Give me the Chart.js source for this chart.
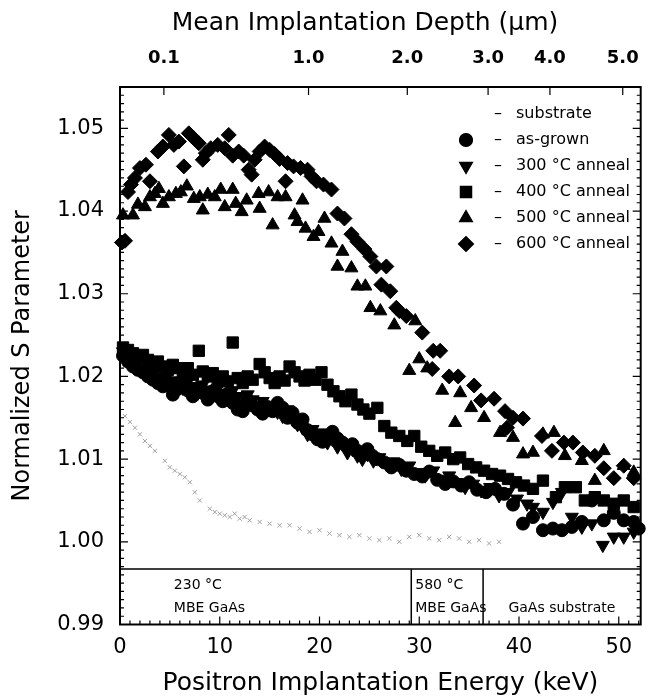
<!DOCTYPE html>
<html>
<head>
<meta charset="utf-8">
<script src="https://cdn.jsdelivr.net/npm/chart.js@4"></script>
<style>
  html, body { margin: 0; padding: 0; background: #fff; }
</style>
</head>
<body>
<canvas id="chart" width="657" height="698"></canvas>
<script>
// energies in keV, S values normalized
const substrateE = [0.5, 1.0, 1.5, 2.0, 2.5, 3.0, 3.5, 4.5, 5.0, 5.5, 6.0, 6.5, 7.0, 7.5, 8.0, 9.0, 9.5, 10.0, 10.5, 11.0, 11.5, 12.0, 12.5, 13.0, 14.0, 15.0, 16.0, 17.0, 18.0, 19.0, 20.0, 21.0, 22.0, 23.0, 24.0, 25.0, 26.0, 27.0, 28.0, 29.0, 30.0, 31.0, 32.0, 33.0, 34.0, 35.0, 36.0, 37.0, 38.0];
const substrateS = [1.0152, 1.0145, 1.0138, 1.0130, 1.0122, 1.0116, 1.0110, 1.0098, 1.0090, 1.0086, 1.0082, 1.0078, 1.0072, 1.0060, 1.0050, 1.0040, 1.0036, 1.0034, 1.0032, 1.0030, 1.0034, 1.0028, 1.0030, 1.0026, 1.0024, 1.0022, 1.0020, 1.0020, 1.0016, 1.0012, 1.0014, 1.0010, 1.0008, 1.0006, 1.0008, 1.0004, 1.0002, 1.0004, 1.0000, 1.0006, 1.0008, 1.0004, 1.0002, 1.0006, 1.0004, 1.0000, 1.0002, 0.9998, 1.0000];

const asGrownE = [0.3, 0.8, 1.3, 1.8, 2.3, 2.8, 3.3, 3.8, 4.3, 4.8, 5.3, 5.8, 6.3, 6.8, 7.3, 7.8, 8.3, 8.8, 9.3, 9.8, 10.3, 10.8, 11.3, 11.8, 12.3, 12.8, 13.3, 13.8, 14.3, 14.8, 15.3, 15.8, 16.3, 16.8, 17.3, 17.8, 18.3, 18.8, 19.3, 19.8, 20.3, 20.8, 21.3, 21.8, 22.3, 22.8, 23.3, 23.8, 24.3, 24.8, 25.3, 25.8, 26.5, 27.2, 28.0, 28.7, 29.5, 30.3, 31.0, 31.8, 32.6, 33.4, 34.2, 35.0, 35.8, 36.7, 37.6, 38.5, 39.4, 40.4, 41.4, 42.4, 43.4, 44.3, 45.3, 46.3, 47.3, 48.5, 49.5, 50.5, 51.5, 52.0];
const asGrownS = [1.0225, 1.0218, 1.0212, 1.0208, 1.0205, 1.0200, 1.0196, 1.0192, 1.0188, 1.0190, 1.0178, 1.0185, 1.0191, 1.0183, 1.0176, 1.0186, 1.0180, 1.0172, 1.0182, 1.0176, 1.0170, 1.0179, 1.0168, 1.0160, 1.0158, 1.0172, 1.0165, 1.0160, 1.0155, 1.0163, 1.0158, 1.0168, 1.0162, 1.0150, 1.0156, 1.0144, 1.0148, 1.0135, 1.0130, 1.0124, 1.0121, 1.0128, 1.0133, 1.0125, 1.0120, 1.0115, 1.0118, 1.0110, 1.0106, 1.0112, 1.0104, 1.0100, 1.0096, 1.0090, 1.0093, 1.0086, 1.0082, 1.0079, 1.0085, 1.0075, 1.0070, 1.0073, 1.0068, 1.0072, 1.0063, 1.0060, 1.0064, 1.0058, 1.0045, 1.0022, 1.0030, 1.0014, 1.0016, 1.0014, 1.0018, 1.0024, 1.0050, 1.0026, 1.0035, 1.0026, 1.0024, 1.0016];

const anneal300E = [0.3, 0.8, 1.3, 1.8, 2.3, 2.8, 3.3, 3.8, 4.3, 4.8, 5.3, 5.8, 6.3, 6.8, 7.3, 7.8, 8.3, 8.8, 9.3, 9.8, 10.3, 10.8, 11.3, 11.8, 12.3, 12.8, 13.3, 13.8, 14.3, 14.8, 15.3, 15.8, 16.3, 16.8, 17.3, 17.8, 18.3, 18.8, 19.3, 19.8, 20.3, 20.8, 21.3, 21.8, 22.3, 22.8, 23.3, 23.8, 24.3, 24.8, 25.4, 26.0, 26.7, 27.4, 28.2, 29.0, 29.8, 30.6, 31.4, 32.2, 33.0, 33.8, 34.6, 35.4, 36.2, 37.1, 38.0, 38.9, 39.8, 40.8, 41.4, 42.4, 43.4, 44.3, 45.3, 46.3, 47.3, 48.4, 49.5, 50.5, 51.5];
const anneal300S = [1.0230, 1.0222, 1.0215, 1.0218, 1.0210, 1.0212, 1.0205, 1.0200, 1.0196, 1.0202, 1.0195, 1.0190, 1.0186, 1.0194, 1.0188, 1.0180, 1.0190, 1.0184, 1.0178, 1.0186, 1.0180, 1.0174, 1.0183, 1.0176, 1.0168, 1.0178, 1.0172, 1.0165, 1.0170, 1.0160, 1.0164, 1.0157, 1.0152, 1.0160, 1.0148, 1.0142, 1.0138, 1.0130, 1.0136, 1.0128, 1.0132, 1.0120, 1.0124, 1.0115, 1.0118, 1.0108, 1.0112, 1.0104, 1.0100, 1.0106, 1.0098, 1.0102, 1.0094, 1.0097, 1.0088, 1.0092, 1.0084, 1.0080, 1.0086, 1.0076, 1.0080, 1.0072, 1.0066, 1.0070, 1.0062, 1.0066, 1.0056, 1.0060, 1.0052, 1.0046, 1.0042, 1.0036, 1.0048, 1.0060, 1.0030, 1.0018, 1.0022, 0.9996, 1.0006, 1.0006, 1.0012];

const anneal400E = [0.3, 0.8, 1.3, 1.8, 2.3, 2.8, 3.3, 3.8, 4.3, 4.8, 5.3, 5.8, 6.3, 6.8, 7.3, 7.9, 8.3, 8.8, 9.3, 9.8, 10.3, 10.8, 11.3, 11.8, 12.3, 12.8, 13.3, 14.0, 14.5, 15.0, 15.5, 16.0, 16.5, 17.0, 17.5, 18.0, 18.5, 19.0, 19.6, 20.2, 20.8, 21.4, 22.0, 22.6, 23.2, 23.8, 24.4, 25.0, 25.8, 26.5, 27.2, 28.0, 28.8, 29.5, 30.2, 31.0, 31.8, 32.6, 33.4, 34.1, 34.9, 35.7, 36.5, 37.3, 38.1, 38.9, 39.7, 40.5, 41.4, 42.4, 43.7, 44.6, 45.7, 46.6, 47.6, 48.5, 49.5, 50.5, 51.5];
const anneal400S = [1.0235, 1.0232, 1.0228, 1.0224, 1.0226, 1.0220, 1.0215, 1.0218, 1.0212, 1.0208, 1.0214, 1.0210, 1.0205, 1.0210, 1.0202, 1.0231, 1.0206, 1.0200, 1.0204, 1.0196, 1.0200, 1.0194, 1.0241, 1.0198, 1.0192, 1.0200, 1.0196, 1.0215, 1.0205, 1.0198, 1.0192, 1.0200, 1.0195, 1.0212, 1.0205, 1.0200, 1.0195, 1.0202, 1.0196, 1.0205, 1.0190, 1.0182, 1.0176, 1.0170, 1.0178, 1.0166, 1.0160, 1.0155, 1.0162, 1.0140, 1.0132, 1.0128, 1.0122, 1.0128, 1.0115, 1.0110, 1.0104, 1.0108, 1.0100, 1.0102, 1.0094, 1.0090, 1.0086, 1.0082, 1.0080, 1.0076, 1.0072, 1.0068, 1.0064, 1.0074, 1.0054, 1.0066, 1.0066, 1.0050, 1.0054, 1.0050, 1.0046, 1.0050, 1.0042];

const anneal500E = [0.3, 1.3, 1.8, 2.5, 3.0, 3.5, 3.9, 4.3, 4.9, 5.6, 6.1, 6.7, 7.4, 8.0, 8.3, 8.8, 9.5, 10.1, 10.5, 11.3, 11.6, 12.2, 12.7, 13.9, 14.0, 14.9, 15.3, 15.8, 16.6, 17.5, 17.8, 18.3, 18.6, 19.4, 19.9, 20.5, 21.2, 21.8, 22.3, 23.2, 23.8, 24.6, 25.1, 26.1, 27.5, 29.0, 29.6, 30.0, 30.8, 32.3, 33.6, 34.1, 35.2, 36.5, 38.1, 39.4, 40.4, 41.4, 42.4, 43.5, 44.6, 46.3, 47.6, 48.5, 50.5, 51.5];
const anneal500S = [1.0395, 1.0395, 1.0408, 1.0405, 1.0417, 1.0421, 1.0427, 1.0409, 1.0417, 1.0421, 1.0423, 1.0430, 1.0415, 1.0417, 1.0401, 1.0420, 1.0417, 1.0426, 1.0405, 1.0426, 1.0409, 1.0399, 1.0413, 1.0421, 1.0403, 1.0423, 1.0383, 1.0417, 1.0417, 1.0395, 1.0387, 1.0413, 1.0379, 1.0369, 1.0375, 1.0391, 1.0361, 1.0333, 1.0351, 1.0331, 1.0309, 1.0309, 1.0283, 1.0279, 1.0262, 1.0207, 1.0267, 1.0221, 1.0210, 1.0183, 1.0144, 1.0180, 1.0162, 1.0150, 1.0132, 1.0126, 1.0106, 1.0108, 1.0130, 1.0132, 1.0104, 1.0098, 1.0074, 1.0110, 1.0092, 1.0084];

const anneal600E = [0.2, 0.5, 0.8, 1.1, 1.5, 2.0, 2.6, 3.0, 3.8, 4.3, 4.9, 5.4, 5.9, 6.4, 6.9, 7.4, 7.9, 8.3, 8.6, 9.1, 9.8, 10.5, 10.9, 11.3, 11.9, 12.4, 12.9, 13.2, 13.5, 14.0, 14.5, 15.0, 15.5, 16.0, 16.6, 16.8, 17.4, 18.1, 18.8, 19.2, 19.7, 20.4, 21.2, 21.8, 22.5, 23.2, 23.8, 24.5, 25.1, 25.7, 26.2, 26.7, 27.1, 27.7, 28.0, 28.7, 30.3, 31.3, 31.4, 32.1, 33.0, 33.9, 35.5, 36.2, 37.5, 38.6, 38.8, 39.4, 40.4, 42.3, 43.3, 44.5, 45.4, 46.4, 47.6, 48.5, 49.5, 50.5, 51.5];
const anneal600S = [1.0362, 1.0364, 1.0423, 1.0432, 1.0440, 1.0452, 1.0456, 1.0436, 1.0472, 1.0478, 1.0492, 1.0480, 1.0484, 1.0454, 1.0494, 1.0488, 1.0482, 1.0462, 1.0470, 1.0476, 1.0480, 1.0476, 1.0492, 1.0467, 1.0472, 1.0467, 1.0450, 1.0444, 1.0462, 1.0472, 1.0478, 1.0474, 1.0469, 1.0463, 1.0436, 1.0458, 1.0454, 1.0452, 1.0450, 1.0442, 1.0436, 1.0432, 1.0426, 1.0397, 1.0391, 1.0372, 1.0363, 1.0354, 1.0345, 1.0333, 1.0311, 1.0333, 1.0303, 1.0283, 1.0279, 1.0273, 1.0253, 1.0209, 1.0231, 1.0231, 1.0200, 1.0200, 1.0189, 1.0171, 1.0173, 1.0158, 1.0138, 1.0150, 1.0149, 1.0128, 1.0110, 1.0120, 1.0120, 1.0108, 1.0104, 1.0089, 1.0077, 1.0092, 1.0077];

const seriesLabels = ['substrate', 'as-grown', '300 °C anneal', '400 °C anneal', '500 °C anneal', '600 °C anneal'];

// axes
const energyTicks = [0, 10, 20, 30, 40, 50];
const sTicks = [0.99, 1.00, 1.01, 1.02, 1.03, 1.04, 1.05];
const depthTickEnergies = [4.4, 18.9, 28.8, 36.9, 43.1, 50.4];
const depthTickLabels = ['0.1', '1.0', '2.0', '3.0', '4.0', '5.0'];

// sample layers (keV boundaries) for the bottom strip
const layerBounds = [0, 29.2, 36.4];
const layerTopS = 0.9967;

const FONT = 'DejaVu Sans';

function pts(E, S) { return E.map((e, i) => ({ x: e, y: S[i] })); }

function mk(label, E, S, style, radius, rotation) {
  return {
    label: label, data: pts(E, S), pointStyle: style, pointRadius: radius,
    pointRotation: rotation || 0, backgroundColor: '#000', borderColor: '#000',
    pointBorderWidth: 1, showLine: false, clip: false
  };
}

const datasets = [
  { label: seriesLabels[0], data: pts(substrateE, substrateS), pointStyle: 'crossRot', pointRadius: 3,
    borderColor: '#a0a0a0', backgroundColor: '#a0a0a0', pointBorderWidth: 1, showLine: false, clip: false },
  mk(seriesLabels[1], asGrownE, asGrownS, 'circle', 6.5),
  mk(seriesLabels[2], anneal300E, anneal300S, 'triangle', 7.5, 180),
  mk(seriesLabels[3], anneal400E, anneal400S, 'rect', 8),
  mk(seriesLabels[4], anneal500E, anneal500S, 'triangle', 7.5),
  mk(seriesLabels[5], anneal600E, anneal600S, 'rectRot', 7.5)
];

const decor = {
  id: 'decor',
  afterDraw(chart) {
    const ctx = chart.ctx;
    const a = chart.chartArea;
    const xs = chart.scales.x, ys = chart.scales.y;
    ctx.save();
    ctx.strokeStyle = '#000';
    ctx.fillStyle = '#000';

    // frame
    ctx.lineWidth = 2;
    ctx.strokeRect(a.left, a.top, a.right - a.left, a.bottom - a.top);

    // layer strip
    const yb = ys.getPixelForValue(layerTopS);
    ctx.lineWidth = 1.5;
    ctx.beginPath();
    ctx.moveTo(a.left, yb); ctx.lineTo(a.right, yb);
    for (let i = 1; i < layerBounds.length; i++) {
      const x = xs.getPixelForValue(layerBounds[i]);
      ctx.moveTo(x, yb); ctx.lineTo(x, a.bottom);
    }
    ctx.stroke();

    // inward ticks
    ctx.lineWidth = 1.2;
    ctx.beginPath();
    for (let k = 990; k <= 1055; k++) {
      const y = ys.getPixelForValue(k / 1000);
      const len = k % 10 === 0 ? 8 : 4;
      ctx.moveTo(a.left, y); ctx.lineTo(a.left + len, y);
      ctx.moveTo(a.right, y); ctx.lineTo(a.right - len, y);
    }
    for (let e = 0; e <= 52; e++) {
      const x = xs.getPixelForValue(e);
      const len = e % 10 === 0 ? 8 : 4;
      ctx.moveTo(x, a.bottom); ctx.lineTo(x, a.bottom - len);
    }
    depthTickEnergies.forEach(e => {
      const x = xs.getPixelForValue(e);
      ctx.moveTo(x, a.top); ctx.lineTo(x, a.top + 8);
    });
    ctx.stroke();

    // layer labels
    ctx.font = '14px "' + FONT + '"';
    ctx.textBaseline = 'middle';
    ctx.textAlign = 'left';
    const x1 = xs.getPixelForValue(5.4), x2 = xs.getPixelForValue(layerBounds[1]) + 4;
    ctx.fillText('230 °C', x1, 585);
    ctx.fillText('MBE GaAs', x1, 608);
    ctx.fillText('580 °C', x2, 585);
    ctx.fillText('MBE GaAs', x2, 608);
    ctx.textAlign = 'center';
    ctx.fillText('GaAs substrate', (xs.getPixelForValue(layerBounds[2]) + a.right) / 2, 608);

    // top axis title
    ctx.font = '25px "' + FONT + '"';
    ctx.fillText('Mean Implantation Depth (µm)', 365, 23);

    // legend
    ctx.font = '16px "' + FONT + '"';
    ctx.textAlign = 'left';
    chart.data.datasets.forEach((ds, i) => {
      const y = 114 + i * 26;
      if (i > 0) {
        Chart.helpers.drawPoint(ctx, {
          pointStyle: ds.pointStyle, radius: ds.pointRadius, rotation: ds.pointRotation, borderWidth: 1
        }, 466, y);
        ctx.fill();
      }
      ctx.fillText('–', 494, y);
      ctx.fillText(ds.label, 516, y);
    });
    ctx.restore();
  }
};

new Chart(document.getElementById('chart'), {
  type: 'scatter',
  data: { datasets: datasets },
  options: {
    responsive: false,
    animation: false,
    layout: { padding: { left: 0, right: 3, top: 0, bottom: 0 } },
    plugins: { legend: { display: false }, tooltip: { enabled: false } },
    scales: {
      x: {
        type: 'linear', position: 'bottom', min: 0, max: 52.2,
        afterBuildTicks: s => { s.ticks = energyTicks.map(v => ({ value: v })); },
        afterFit: s => { s.height = 73.5; },
        grid: { display: false, drawTicks: false },
        border: { display: false },
        ticks: { padding: 10, color: '#000', maxRotation: 0, autoSkip: false, font: { family: FONT, size: 21 } },
        title: { display: true, text: 'Positron Implantation Energy (keV)', color: '#000',
                 padding: { top: 0, bottom: 0 }, font: { family: FONT, size: 25 } }
      },
      x2: {
        type: 'linear', position: 'top', min: 0, max: 52.2,
        afterBuildTicks: s => { s.ticks = depthTickEnergies.map(v => ({ value: v })); },
        afterFit: s => { s.height = 87; },
        grid: { display: false, drawTicks: false },
        border: { display: false },
        ticks: { padding: 18, color: '#000', maxRotation: 0, autoSkip: false,
                 callback: (v, i) => depthTickLabels[i],
                 font: { family: FONT, size: 18, weight: 'bold' } }
      },
      y: {
        type: 'linear', position: 'left', min: 0.99, max: 1.055,
        afterBuildTicks: s => { s.ticks = sTicks.map(v => ({ value: v })); },
        afterFit: s => { s.width = 120; },
        grid: { display: false, drawTicks: false },
        border: { display: false },
        ticks: { padding: 16, color: '#000', callback: v => v.toFixed(2), font: { family: FONT, size: 21 } },
        title: { display: true, text: 'Normalized S Parameter', color: '#000',
                 padding: { top: 8, bottom: 0 }, font: { family: FONT, size: 24 } }
      }
    }
  },
  plugins: [decor]
});
</script>
</body>
</html>
